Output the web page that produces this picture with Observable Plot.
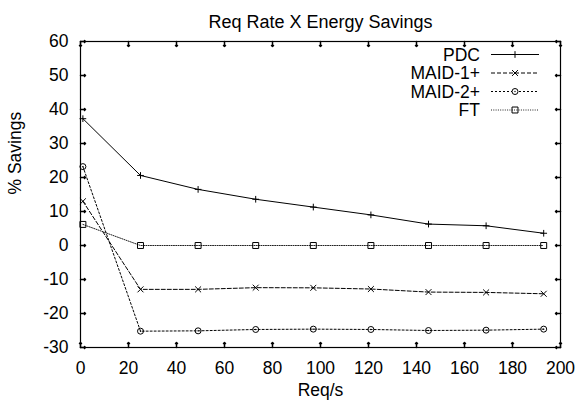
<!DOCTYPE html>
<html>
<head>
<meta charset="utf-8">
<script src="https://cdn.jsdelivr.net/npm/d3@7"></script>
<script src="https://cdn.jsdelivr.net/npm/@observablehq/plot@0.6"></script>
<style>
  html, body { margin: 0; padding: 0; background: white; }
</style>
</head>
<body>
<div id="chart"></div>
<script>
const reqRates = [1, 25, 49, 73, 97, 121, 145, 169, 193];
const pdc   = [37.3, 20.6, 16.5, 13.6, 11.3, 9.0, 6.3, 5.8, 3.6];
const maid1 = [13.0, -12.9, -12.9, -12.4, -12.45, -12.8, -13.7, -13.8, -14.2];
const maid2 = [23.2, -25.2, -25.1, -24.7, -24.6, -24.7, -25.0, -24.9, -24.6];
const ft    = [6.2, 0, 0, 0, 0, 0, 0, 0, 0];
const seriesNames = ["PDC", "MAID-1+", "MAID-2+", "FT"];
const xTicks = [0, 20, 40, 60, 80, 100, 120, 140, 160, 180, 200];
const yTicks = [-30, -20, -10, 0, 10, 20, 30, 40, 50, 60];

const values = [pdc, maid1, maid2, ft];
const styles = {
  "PDC":     {dash: null,    stroke: "black", symbol: "plus",    r: 2.3},
  "MAID-1+": {dash: "4,2",   stroke: "black", symbol: "times",   r: 2.8},
  "MAID-2+": {dash: "2,2",   stroke: "black", symbol: "circle",  r: 3},
  "FT":      {dash: "1,1.3", stroke: "#222",  symbol: "square2", r: 3.8}
};

const rows = [];
seriesNames.forEach((name, i) => {
  reqRates.forEach((x, j) => rows.push({series: name, x, y: values[i][j]}));
});

const font = "'Liberation Sans', Arial, Helvetica, sans-serif";
const fs = 17.5;

const marks = [
  Plot.axisX({ticks: xTicks, tickSize: 0, tickPadding: 14, fontSize: fs, label: null}),
  Plot.axisY({ticks: yTicks, tickSize: 0, tickPadding: 12, fontSize: fs, label: null, tickFormat: d => String(d).replace("\u2212", "-")}),
  Plot.vector(xTicks, {x: d => d, frameAnchor: "bottom", rotate: 0, length: 5, anchor: "start", stroke: "black"}),
  Plot.vector(xTicks, {x: d => d, frameAnchor: "top", rotate: 180, length: 5, anchor: "start", stroke: "black"}),
  Plot.vector(yTicks, {y: d => d, frameAnchor: "left", rotate: 90, length: 5, anchor: "start", stroke: "black"}),
  Plot.vector(yTicks, {y: d => d, frameAnchor: "right", rotate: -90, length: 5, anchor: "start", stroke: "black"}),
  Plot.text(["Req Rate X Energy Savings"], {text: d => d, frameAnchor: "top", dy: -26, fontSize: 18}),
  Plot.text(["Req/s"], {text: d => d, frameAnchor: "bottom", dy: 48, fontSize: fs}),
  Plot.text(["% Savings"], {text: d => d, frameAnchor: "left", dx: -65, rotate: -90, fontSize: fs})
];

seriesNames.forEach(name => {
  const st = styles[name];
  const data = rows.filter(d => d.series === name);
  marks.push(Plot.line(data, {x: "x", y: "y", stroke: st.stroke, strokeWidth: 1, strokeDasharray: st.dash}));
  marks.push(Plot.dot(data, {x: "x", y: "y", symbol: st.symbol, r: st.r, stroke: "black", fill: "none", strokeWidth: 1}));
  if (name === "MAID-2+") {
    marks.push(Plot.dot(data, {x: "x", y: "y", r: 0.7, fill: "black", stroke: "none"}));
  }
});

marks.push(Plot.frame({stroke: "black", strokeWidth: 1.2}));

const chart = Plot.plot({
  width: 579,
  height: 407,
  marginLeft: 80,
  marginRight: 19,
  marginTop: 41,
  marginBottom: 60,
  style: {fontFamily: font, fontSize: fs + "px", background: "white", color: "black"},
  x: {domain: [0, 200]},
  y: {domain: [-30, 60]},
  marks
});

// Legend (inside top-right of the frame)
const svg = d3.select(chart);
const lg = svg.append("g").attr("font-family", font).attr("font-size", fs);
const symMap = {plus: d3.symbolPlus, times: d3.symbolTimes, circle: d3.symbolCircle, square2: d3.symbolSquare2};
const textRight = 480, lineX1 = 491, lineX2 = 539, row0 = 54.5, rowStep = 18.5;
seriesNames.forEach((name, i) => {
  const st = styles[name];
  const y = row0 + i * rowStep;
  lg.append("text").attr("x", textRight).attr("y", y).attr("dy", "0.36em")
    .attr("text-anchor", "end").attr("fill", "black").text(name);
  lg.append("line").attr("x1", lineX1).attr("x2", lineX2).attr("y1", y).attr("y2", y)
    .attr("stroke", st.stroke).attr("stroke-width", 1)
    .attr("stroke-dasharray", st.dash);
  const cx = (lineX1 + lineX2) / 2;
  if (st.symbol === "circle") {
    lg.append("circle").attr("cx", cx).attr("cy", y).attr("r", st.r).attr("fill", "white").attr("stroke", "black");
    lg.append("circle").attr("cx", cx).attr("cy", y).attr("r", 0.7).attr("fill", "black");
  } else {
    lg.append("path").attr("transform", `translate(${cx},${y})`)
      .attr("d", d3.symbol(symMap[st.symbol], Math.PI * st.r * st.r)())
      .attr("fill", "none").attr("stroke", "black");
  }
});

document.getElementById("chart").appendChild(chart);
</script>
</body>
</html>
